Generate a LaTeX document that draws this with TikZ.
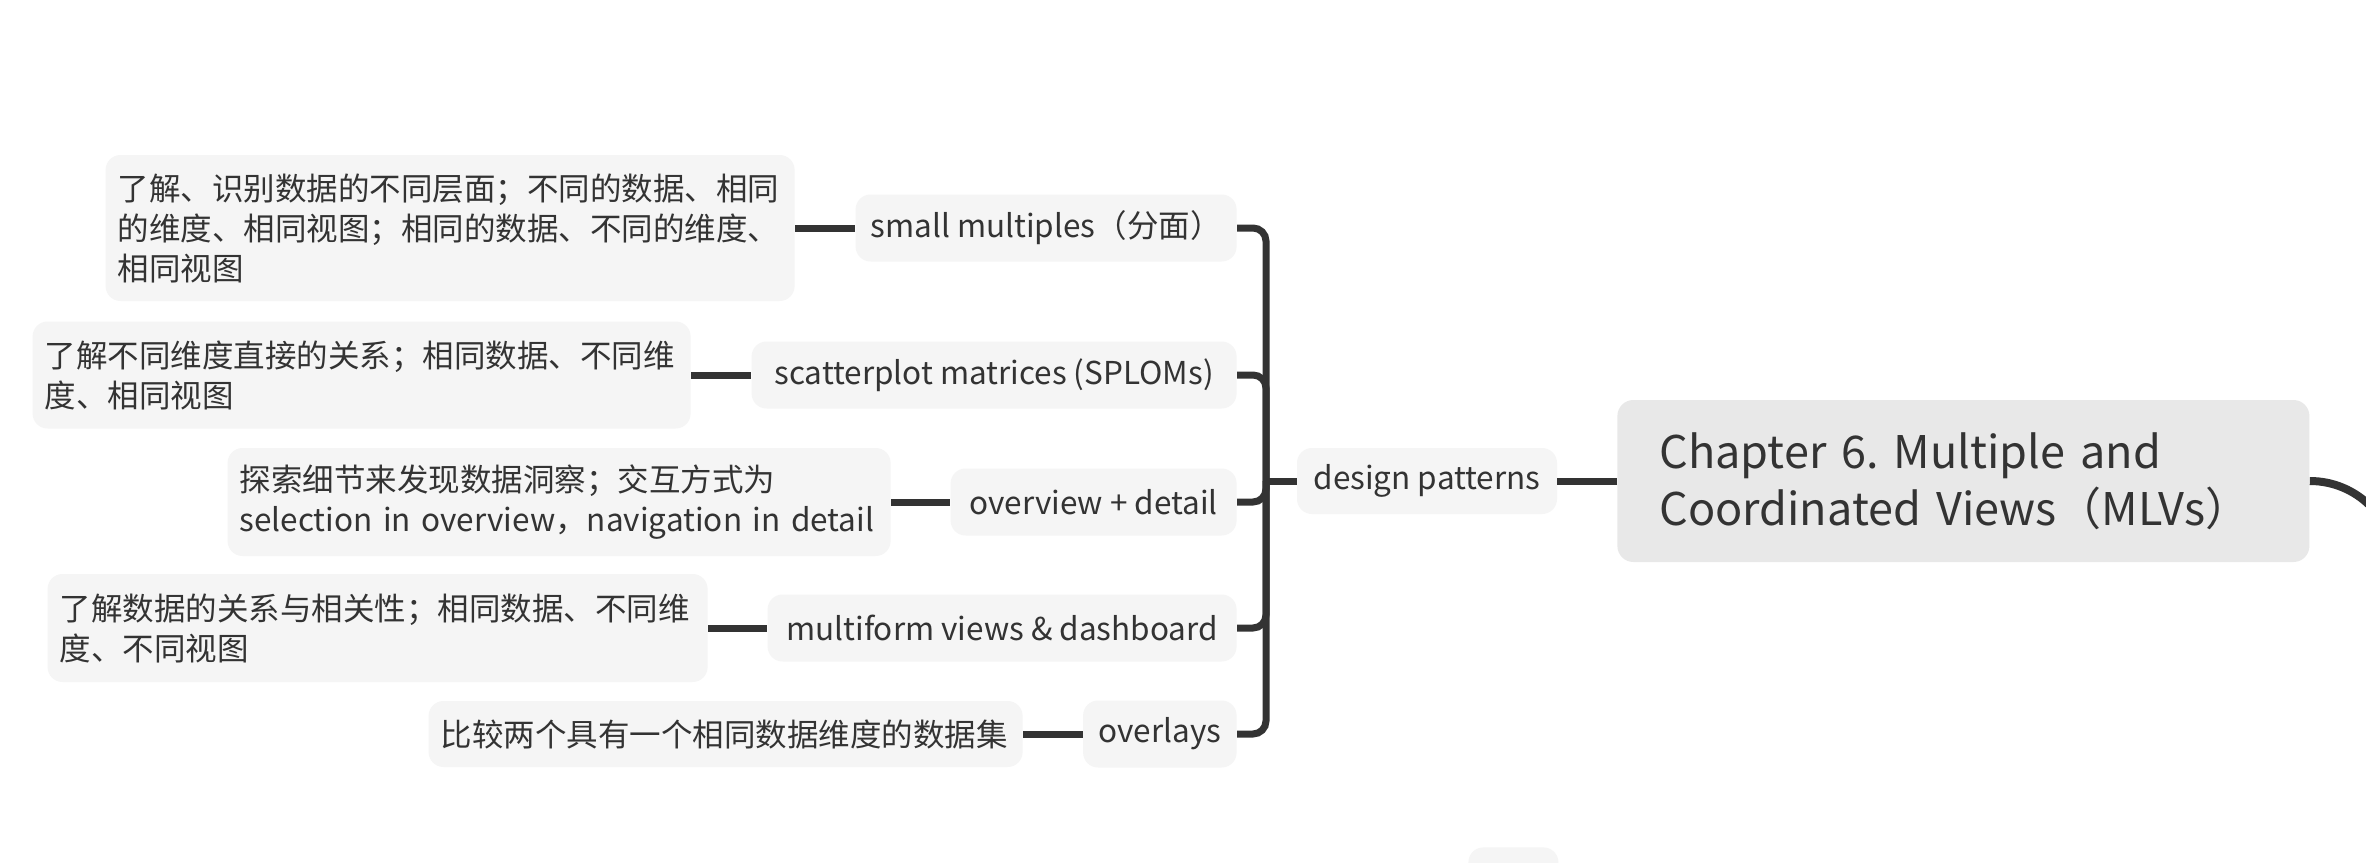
\documentclass[tikz,border=0pt]{standalone}
\usepackage{fontspec}
\setmainfont{Noto Sans CJK SC}
\frenchspacing
\definecolor{boxgray}{HTML}{F5F5F5}
\definecolor{rootgray}{HTML}{E8E8E8}
\definecolor{txt}{HTML}{333333}
\definecolor{linec}{HTML}{333333}
\newcommand{\fsnorm}{\fontsize{15.75pt}{20pt}\selectfont}
\newcommand{\fsroot}{\fontsize{22.5pt}{28.5pt}\selectfont}
\tikzset{
  topic/.style={rounded corners=7.5pt, fill=boxgray, text=txt, inner xsep=6pt, inner ysep=0pt, minimum height=33.5pt, font=\fsnorm, align=center},
  desc/.style={topic, align=left, inner xsep=6pt},
  rootbox/.style={rounded corners=8pt, fill=rootgray, text=txt, inner xsep=21pt, inner ysep=0pt, font=\fsroot, align=left, text width=304pt, minimum height=81pt},
  link/.style={draw=linec, line width=3.5pt, rounded corners=6.5pt},
}
\begin{document}
\begin{tikzpicture}[x=0.5pt,y=-0.5pt]
\clip (0,0) rectangle (2366,862);
\fill[white] (0,0) rectangle (2366,862);

% root
\node[rootbox, anchor=west] (chap) at (1617,481) {Chapter 6. Multiple and\\Coordinated Views（MLVs）};

% second level
\node[topic, minimum width=130pt, minimum height=33pt] (dp) at (1427,481) {design patterns};

% third level
\node[topic, anchor=east, minimum width=190.5pt] (sm) at (1237,228) {small multiples（分面）};
\node[topic, anchor=east, minimum width=242.5pt] (sp) at (1237,375) {scatterplot matrices (SPLOMs)};
\node[topic, anchor=east, minimum width=143pt] (od) at (1237,502) {overview + detail};
\node[topic, anchor=east, minimum width=234.5pt] (mv) at (1237,628) {multiform views \& dashboard};
\node[topic, anchor=east, minimum width=76.75pt] (ov) at (1237,734) {overlays};

% descriptions
\node[desc, anchor=east, text width=332.5pt, minimum height=73pt] (d1) at (795,228)
  {了解、识别数据的不同层面；不同的数据、相同\\的维度、相同视图；相同的数据、不同的维度、\\相同视图};
\node[desc, anchor=east, text width=317pt, minimum height=53.5pt] (d2) at (691,375)
  {了解不同维度直接的关系；相同数据、不同维\\度、相同视图};
\node[desc, anchor=east, text width=319.5pt, minimum height=54pt] (d3) at (891,502)
  {探索细节来发现数据洞察；交互方式为\\selection in overview，navigation in detail};
\node[desc, anchor=east, text width=318pt, minimum height=54pt] (d4) at (708,628)
  {了解数据的关系与相关性；相同数据、不同维\\度、不同视图};
\node[desc, anchor=east, text width=285pt, minimum height=33pt] (d5) at (1023,734)
  {比较两个具有一个相同数据维度的数据集};

% partially visible node at the bottom
\node[topic, anchor=north west, minimum width=45pt, minimum height=30pt] (hidden) at (1468,847) {};

% connectors
\coordinate (hub) at (1266,481);
\draw[link] (chap.west) -- (dp.east);
\draw[link] (dp.west) -- (hub);
\foreach \n in {sm,sp,od,mv,ov} {\draw[link] (hub) |- (\n.east);}
\draw[link] (d1.east) -- (sm.west);
\draw[link] (d2.east) -- (sp.west);
\draw[link] (d3.east) -- (od.west);
\draw[link] (d4.east) -- (mv.west);
\draw[link] (d5.east) -- (ov.west);

% main branch leaving the root to the right
\coordinate (offpage) at (2395,900);
\draw[draw=linec, line width=4pt] (chap.east) .. controls (2357,481) and (2395,519) .. (2395,566) -- (offpage);
\end{tikzpicture}
\end{document}
